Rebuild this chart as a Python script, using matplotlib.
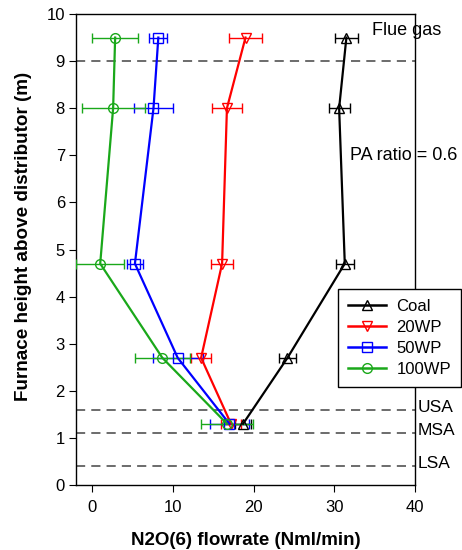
import matplotlib.pyplot as plt
from matplotlib.lines import Line2D

plt.rcParams['font.family'] = ['Liberation Sans', 'DejaVu Sans']

# heights of sampling ports (m)
height = [1.3, 2.7, 4.7, 8.0, 9.5]

# N2O flowrate and error per fuel
coal = [18.7, 24.2, 31.3, 30.6, 31.5]
coal_err = [1.0, 1.1, 1.1, 1.3, 1.4]
wp20 = [17.2, 13.5, 16.1, 16.7, 19.0]
wp20_err = [1.2, 1.2, 1.4, 1.9, 2.0]
wp50 = [17.0, 10.6, 5.3, 7.6, 8.2]
wp50_err = [2.4, 3.1, 1.0, 2.4, 1.1]
wp100 = [16.7, 8.7, 1.0, 2.6, 2.85]
wp100_err = [3.2, 3.4, 3.0, 3.9, 2.85]

series = [("Coal", coal, coal_err, "black", "^"),
          ("20WP", wp20, wp20_err, "red", "v"),
          ("50WP", wp50, wp50_err, "blue", "s"),
          ("100WP", wp100, wp100_err, "#1aa81a", "o")]

zones = [(9.0, None), (1.6, "USA"), (1.1, "MSA"), (0.4, "LSA")]

fig = plt.figure(figsize=(4.62, 5.5), dpi=100)
ax = fig.add_axes([76 / 462, 1 - 485 / 550, (415 - 76) / 462, (485 - 14) / 550])

for y, name in zones:
    ax.axhline(y, color="#444444", lw=1.1, dashes=(6, 4), zorder=1)
    if name:
        ax.text(40.3, y + 0.05, name, fontsize=12.5, va="center", ha="left", clip_on=False)

handles = []
for name, vals, err, col, mk in series:
    ax.errorbar(vals, height, xerr=err, color=col, marker=mk, mfc="none", mec=col,
                ms=7, lw=1.6, elinewidth=1.0, capsize=3.5, capthick=1.0, zorder=3)
    handles.append(Line2D([], [], color=col, marker=mk, mfc="none", mec=col, ms=7, lw=1.8))

ax.set_xlim(-2, 40)
ax.set_ylim(0, 10)
ax.set_xticks([0, 10, 20, 30, 40])
ax.set_yticks(range(0, 11))
ax.tick_params(direction="out", length=5, labelsize=12, colors="black")
ax.tick_params(axis="x", pad=6)
ax.tick_params(axis="y", pad=3)
for s in ax.spines.values():
    s.set_linewidth(1.0)

ax.text(34.7, 9.66, "Flue gas", fontsize=13, va="center", ha="left", clip_on=False)
ax.text(32.0, 7.0, "PA ratio = 0.6", fontsize=13, va="center", ha="left", clip_on=False)

ax.set_xlabel("N2O(6) flowrate (Nml/min)", fontsize=13.5, fontweight="bold", labelpad=12)
ax.set_ylabel("Furnace height above distributor (m)", fontsize=13.6, fontweight="bold")
ax.yaxis.set_label_coords(-0.13, 0.528)

leg = fig.legend(handles, [s[0] for s in series], loc="upper left",
                 bbox_to_anchor=(338 / 462, 1 - 289 / 550), fontsize=12,
                 fancybox=False, framealpha=1, edgecolor="black", handlelength=2.3,
                 borderpad=0.6, labelspacing=0.35, handletextpad=0.6, borderaxespad=0)
leg.get_frame().set_linewidth(1.0)

fig.savefig("out.png", dpi=100)
